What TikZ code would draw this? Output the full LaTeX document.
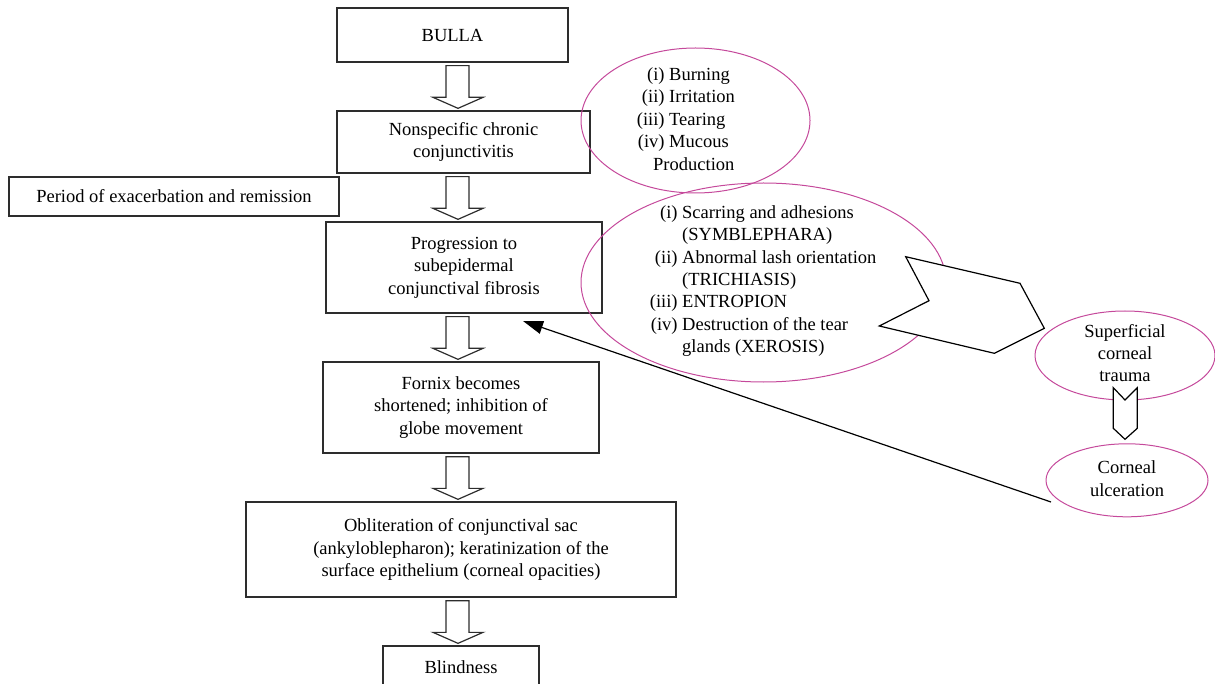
\documentclass[tikz,border=0pt]{standalone}
\usepackage{fontspec}
\setmainfont{Liberation Serif}
\usetikzlibrary{shapes.geometric,arrows.meta,calc}
\definecolor{boxline}{RGB}{45,45,45}
\definecolor{pinkline}{RGB}{197,73,155}
\newcommand{\fs}{\fontsize{18.5}{22.4}\selectfont}
\newcommand{\blockdown}[2]{\draw[blockarr] let \p1=(#1.south),\p2=(#2.north) in
  (446pt,\y1-3pt) -- (446pt,\y2+13pt) -- (433pt,\y2+13pt) -- (458pt,\y2+2pt) --
  (483pt,\y2+13pt) -- (469pt,\y2+13pt) -- (469pt,\y1-3pt) -- cycle;}
\begin{document}
\begin{tikzpicture}[x=1pt,y=-1pt,
  box/.style={draw=boxline,line width=1.3pt,inner sep=0pt,align=center,font=\fs},
  pell/.style={draw=pinkline,line width=1pt,ellipse,inner sep=0pt},
  txt/.style={inner sep=0pt,align=center,font=\fs},
  ltxt/.style={inner sep=0pt,align=left,font=\fs,anchor=west},
  blockarr/.style={draw=boxline,line width=1.2pt,fill=white,line join=miter},
  chev/.style={draw=black,line width=1.2pt,fill=white,line join=miter}]
\useasboundingbox (0,0) rectangle (1215,684);
\clip (0,0) rectangle (1215,684);

% main column boxes
\node[box,minimum width=231pt,minimum height=54pt] (bulla) at (452.5,35) {BULLA};
\node[box,minimum width=253pt,minimum height=62pt] (nonspec) at (463.5,142) {Nonspecific chronic\\conjunctivitis};
\node[box,minimum width=330pt,minimum height=39pt] (period) at (174,196.5) {Period of exacerbation and remission};
\node[box,minimum width=276pt,minimum height=91pt] (prog) at (464,267.5) {Progression to\\subepidermal\\conjunctival fibrosis};
\node[box,minimum width=276pt,minimum height=91pt] (fornix) at (461,407.5) {Fornix becomes\\shortened; inhibition of\\globe movement};
\node[box,minimum width=430pt,minimum height=95pt] (oblit) at (461,549.5) {Obliteration of conjunctival sac\\(ankyloblepharon); keratinization of the\\surface epithelium (corneal opacities)};
\node[box,minimum width=156pt,minimum height=42pt] (blind) at (461,667) {Blindness};

% block arrows
\blockdown{bulla}{nonspec}
\blockdown{nonspec}{prog}
\blockdown{prog}{fornix}
\blockdown{fornix}{oblit}
\blockdown{oblit}{blind}

% pink ellipses
\node[pell,minimum width=229pt,minimum height=145pt] (e1) at (695.5,120.5) {};
\node[pell,minimum width=365pt,minimum height=199pt] (e2) at (763.5,282.5) {};
\node[pell,minimum width=180pt,minimum height=89pt] (st) at (1125,355.5) {};
\node[pell,minimum width=162pt,minimum height=73pt] (cu) at (1127,480.3) {};

% ellipse texts
\node[ltxt] (l1) at (669,119) {\llap{(i)\ }Burning\\\llap{(ii)\ }Irritation\\\llap{(iii)\ }Tearing\\\llap{(iv)\ }Mucous\\\hspace*{-16pt}Production};
\node[ltxt] (l2) at (682,281) {\llap{(i)\ }Scarring and adhesions\\(SYMBLEPHARA)\\\llap{(ii)\ }Abnormal lash orientation\\(TRICHIASIS)\\\llap{(iii)\ }ENTROPION\\\llap{(iv)\ }Destruction of the tear\\glands (XEROSIS)};
\node[txt] (stt) at (1125,353) {Superficial\\corneal\\trauma};
\node[txt] (cut) at (1127,478.5) {Corneal\\ulceration};

% chevron arrows
\draw[chev] (905.7,256.7) -- (1020,283.3) -- (1044.3,328.3) -- (994.3,353.3) -- (879.3,326) -- (929,300.7) -- cycle;
\draw[chev] (1113.3,387.7) -- (1125,400) -- (1137.3,387.7) -- (1137.3,428.3) -- (1125,439.3) -- (1113.3,428.3) -- cycle;

% feedback arrow
\coordinate (ulcend) at (1051,502);
\coordinate (progtip) at (523,321);
\draw[line width=1.2pt,-{Triangle[length=20pt,width=13pt]}] (ulcend) -- (progtip);
\end{tikzpicture}
\end{document}
